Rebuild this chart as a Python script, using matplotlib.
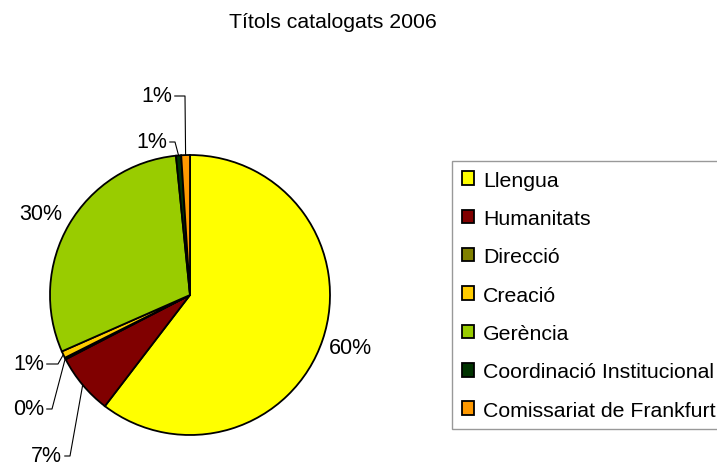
import numpy as np
import matplotlib
matplotlib.use("Agg")
import matplotlib.pyplot as plt
from matplotlib.patches import Patch

plt.rcParams['font.family'] = ['Liberation Sans', 'DejaVu Sans']

categories = ['Llengua', 'Humanitats', 'Direcció', 'Creació', 'Gerència',
              'Coordinació Institucional', 'Comissariat de Frankfurt']
values = [60.4, 7.0, 0.2, 0.8, 30.0, 0.6, 1.0]
colors = ['#FFFF00', '#800000', '#808000', '#FFCC00', '#99CC00', '#003300', '#FF9900']
title = 'Títols catalogats 2006'

W, H = 717, 464
cx, cy, R = 190, 296, 140  # pie centre / radius in pixels

fig = plt.figure(figsize=(W / 100, H / 100), dpi=100)
ax = fig.add_axes([0, 0, 1, 1])

wedges, _ = ax.pie(values, colors=colors, startangle=90, counterclock=False,
                   radius=1, center=(0, 0),
                   wedgeprops=dict(edgecolor='black', linewidth=1.3))
ax.set_xlim(-cx / R, (W - cx) / R)
ax.set_ylim(-(H - cy) / R, cy / R)
ax.set_aspect('equal')
ax.axis('off')

total = sum(values)
pct = ['{:.0f}%'.format(round(v / total * 100)) for v in values]

def px(x, y):
    return (x - cx) / R, (cy - y) / R

# label placement in pixels: (text right edge x, y, elbow x); None = no leader
place = {
    0: (372, 349, None),
    1: (62, 457, 70),
    2: (44, 410, 52),
    3: (44, 365, 58),
    4: (62, 215, None),
    5: (167, 143, 175),
    6: (172, 97, 185),
}

for i, w in enumerate(wedges):
    tx, ty, ex = place[i]
    x, y = px(tx, ty)
    ax.text(x, y, pct[i], ha='right', va='center', fontsize=15.5)
    if ex is not None:
        mid = np.deg2rad((w.theta1 + w.theta2) / 2)
        mx, my = np.cos(mid), np.sin(mid)
        exd, _ = px(ex, ty)
        ax.plot([x + 0.02, exd, mx], [y, y, my], color='black', lw=0.8)

fig.text(333 / W, 1 - 22 / H, title, ha='center', va='center', fontsize=15.3)

handles = [Patch(facecolor=c, edgecolor='black', linewidth=1.3) for c in colors]
leg = fig.legend(handles, categories, loc='upper left',
                 bbox_to_anchor=(452 / W, 1 - 162 / H), fontsize=15.3,
                 frameon=True, fancybox=False, shadow=False,
                 handlelength=0.6, handleheight=0.6, handletextpad=0.42,
                 labelspacing=0.91, borderpad=0.45, borderaxespad=0)
leg.get_frame().set_edgecolor('#808080')
leg.get_frame().set_linewidth(1.0)

fig.savefig('out.png', dpi=100)
